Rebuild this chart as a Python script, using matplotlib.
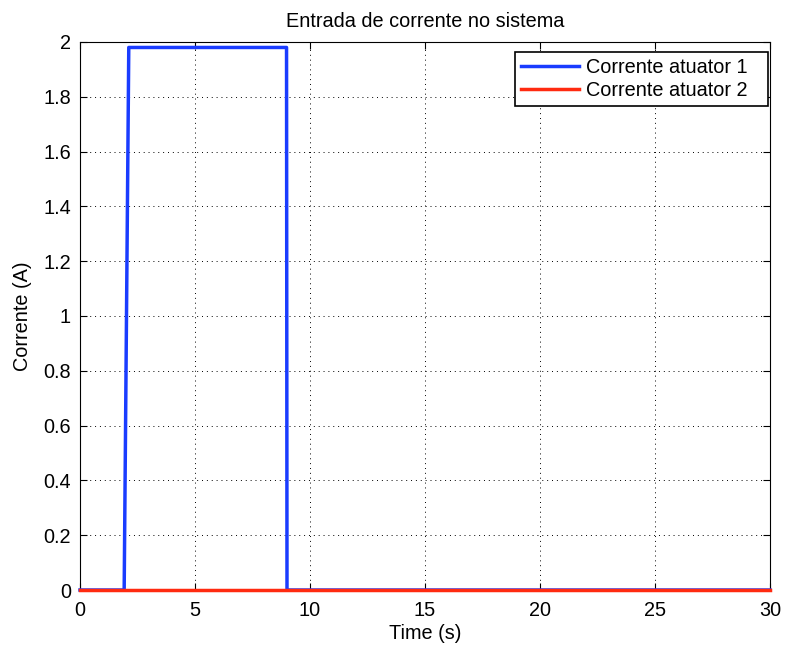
import matplotlib
matplotlib.use('Agg')
import matplotlib.pyplot as plt
import numpy as np

# data
t_atuador1 = [0, 1.92, 2.12, 8.98, 9.0, 30]
i_atuador1 = [0, 0, 1.98, 1.98, 0, 0]
t_atuador2 = [0, 30]
i_atuador2 = [0, 0]

titulo = 'Entrada de corrente no sistema'
rotulos = ['Corrente atuator 1', 'Corrente atuator 2']

plt.rcParams['font.family'] = ['Liberation Sans', 'DejaVu Sans']
fs = 14.3

fig = plt.figure(figsize=(7.86, 6.48), dpi=100)
ax = fig.add_axes([0.1018, 0.0895, 0.8778, 0.8457])

ax.plot(t_atuador1, i_atuador1, color='#1a3cff', lw=2.5, label=rotulos[0], clip_on=False, zorder=3)
ax.plot(t_atuador2, i_atuador2, color='#ff2a10', lw=2.5, label=rotulos[1], clip_on=False, zorder=4)

ax.set_xlim(0, 30)
ax.set_ylim(0, 2)
ax.set_xticks(np.arange(0, 31, 5))
ax.set_yticks(np.arange(0, 2.01, 0.2))
ax.set_yticklabels(['0', '0.2', '0.4', '0.6', '0.8', '1', '1.2', '1.4', '1.6', '1.8', '2'])
ax.tick_params(direction='in', top=True, right=True, length=5, labelsize=fs)
ax.tick_params(axis='x', pad=8)
ax.tick_params(axis='y', pad=6.5)
ax.grid(True, linestyle=(0, (1, 4)), color='black', lw=0.7)

ax.set_xlabel('Time (s)', fontsize=fs, labelpad=3)
ax.set_ylabel('Corrente (A)', fontsize=fs, labelpad=8)
ax.set_title(titulo, fontsize=fs, pad=11)

# legend box stretched to the width seen in the picture
top = 1 - 10 / 548
leg = ax.legend(loc='upper right', bbox_to_anchor=(0.631, 0.5, 0.366, top - 0.5),
                mode='expand', borderaxespad=0,
                fancybox=False, framealpha=1, edgecolor='black',
                handlelength=2.9, handletextpad=0.35, borderpad=0.3,
                labelspacing=0.2, fontsize=fs)
leg.get_frame().set_linewidth(1.2)

fig.savefig('out.png', dpi=100)
